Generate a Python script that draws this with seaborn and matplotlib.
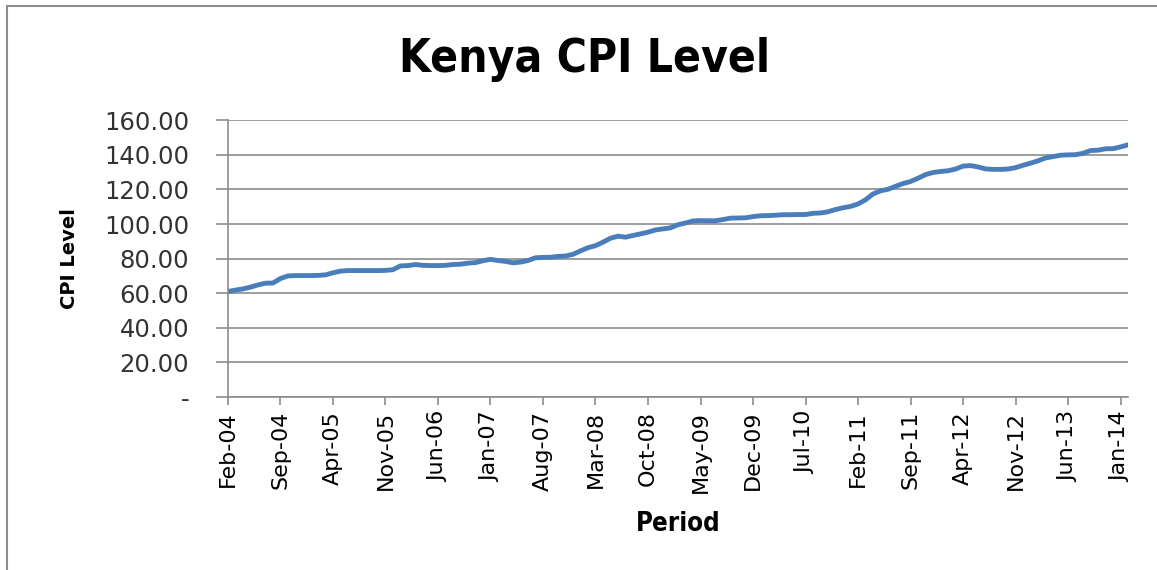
import pandas as pd
import matplotlib.pyplot as plt
import seaborn as sns

# monthly CPI readings, Feb-04 .. Feb-14
cpi = [61.0, 61.8, 62.5, 63.5, 64.8, 65.8, 65.9, 68.5, 70.0, 70.2,
       70.2, 70.2, 70.3, 70.6, 71.8, 72.8, 73.1, 73.1, 73.1, 73.1,
       73.1, 73.2, 73.6, 75.8, 76.0, 76.6, 76.1, 76.0, 76.0, 76.1,
       76.6, 76.8, 77.4, 77.7, 78.8, 79.6, 78.9, 78.4, 77.6, 78.0,
       78.9, 80.5, 80.7, 80.8, 81.3, 81.5, 82.5, 84.5, 86.3, 87.5,
       89.5, 91.8, 93.0, 92.4, 93.4, 94.3, 95.3, 96.6, 97.2, 97.8,
       99.6, 100.6, 101.8, 102.0, 101.9, 101.9, 102.6, 103.4, 103.5, 103.6,
       104.3, 104.8, 104.9, 105.1, 105.4, 105.4, 105.5, 105.5, 106.2, 106.4,
       107.1, 108.4, 109.4, 110.2, 111.6, 114.0, 117.4, 119.2, 120.1, 121.8,
       123.4, 124.6, 126.5, 128.6, 129.8, 130.4, 130.8, 131.8, 133.5, 133.8,
       133.0, 131.9, 131.6, 131.6, 131.8, 132.6, 134.0, 135.2, 136.6, 138.2,
       139.0, 139.8, 140.0, 140.1, 140.9, 142.5, 142.7, 143.5, 143.6, 144.6,
       145.8]

x_labels = ['Feb-04', 'Sep-04', 'Apr-05', 'Nov-05', 'Jun-06', 'Jan-07',
            'Aug-07', 'Mar-08', 'Oct-08', 'May-09', 'Dec-09', 'Jul-10',
            'Feb-11', 'Sep-11', 'Apr-12', 'Nov-12', 'Jun-13', 'Jan-14']
y_values = [0, 20, 40, 60, 80, 100, 120, 140, 160]
y_labels = ['-', '20.00', '40.00', '60.00', '80.00', '100.00', '120.00',
            '140.00', '160.00']

df = pd.DataFrame({'month': range(len(cpi)), 'cpi': cpi})

sns.set_theme(style='white')
plt.rcParams['font.family'] = ['DejaVu Sans']
plt.rcParams['text.color'] = 'black'

fig = plt.figure(figsize=(11.57, 5.70), dpi=100)
ax = fig.add_axes([0.197, 0.3035, 0.778, 0.4855])

sns.lineplot(data=df, x='month', y='cpi', ax=ax, color='#4A7EBB', linewidth=3.5)

grid_col = '#8C8C8C'
ax.set_xlim(0, len(cpi) - 1)
ax.set_ylim(0, 160)
ax.set_yticks(y_values)
ax.set_yticklabels(y_labels, fontsize=17.5, color='#333333')
ax.set_xticks(range(0, 7 * len(x_labels), 7))
ax.set_xticklabels(x_labels, rotation=90, fontsize=16, color='black')
ax.grid(axis='y', color=grid_col, linewidth=1.2)
ax.tick_params(axis='x', direction='out', length=6, width=1.2,
               color=grid_col, bottom=True, pad=4)
ax.tick_params(axis='y', direction='out', length=9, width=1.2,
               color=grid_col, left=True, pad=19)
for side in ['top', 'right']:
    ax.spines[side].set_visible(False)
for side in ['left', 'bottom']:
    ax.spines[side].set_color(grid_col)
    ax.spines[side].set_linewidth(1.2)

ax.set_xlabel('Period', fontsize=18.5, fontweight='bold', labelpad=13,
              fontstretch='condensed', color='black')
ax.set_ylabel('CPI Level', fontsize=14, fontweight='bold', labelpad=18,
              color='black')
fig.text(0.505, 0.895, 'Kenya CPI Level', ha='center', va='center',
         fontsize=33, fontweight='bold', fontstretch='condensed', color='black')

# outer chart border (left and top edges visible)
fig.add_artist(plt.Line2D([0.006, 0.006], [0.0, 0.99], color='#8C8C8C',
                          linewidth=1.5, transform=fig.transFigure))
fig.add_artist(plt.Line2D([0.006, 1.0], [0.99, 0.99], color='#8C8C8C',
                          linewidth=1.5, transform=fig.transFigure))

fig.savefig('out.png', dpi=100)
